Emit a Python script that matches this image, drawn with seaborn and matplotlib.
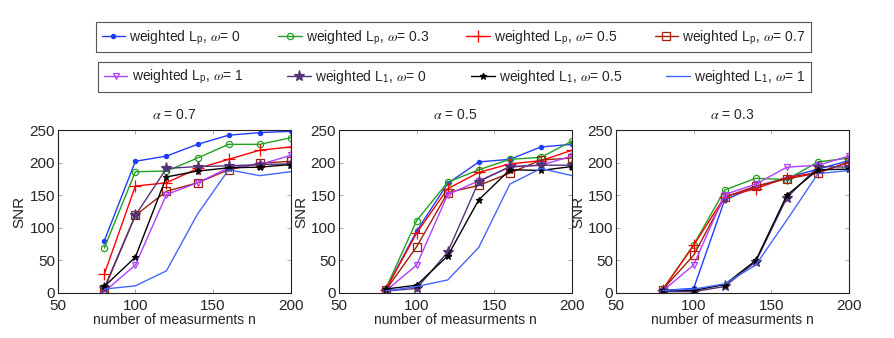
import numpy as np
import pandas as pd
import matplotlib
matplotlib.use('Agg')
import matplotlib.pyplot as plt
import seaborn as sns

# nombre de mesures
n = [80, 100, 120, 140, 160, 180, 200]

# alpha = 0.7
a07_lp_w0 = [80, 202, 210, 228, 242, 246, 248]
a07_lp_w03 = [69, 186, 187, 207, 228, 228, 238]
a07_lp_w05 = [29, 164, 169, 191, 205, 219, 224]
a07_lp_w07 = [6, 119, 156, 169, 189, 199, 202]
a07_lp_w1 = [2, 43, 151, 169, 192, 197, 211]
a07_l1_w0 = [8, 119, 191, 194, 195, 197, 198]
a07_l1_w05 = [10, 55, 178, 187, 192, 193, 197]
a07_l1_w1 = [6, 11, 34, 121, 189, 180, 186]

# alpha = 0.5
a05_lp_w0 = [5, 95, 168, 201, 205, 224, 228]
a05_lp_w03 = [6, 111, 170, 189, 205, 208, 233]
a05_lp_w05 = [5, 92, 160, 185, 198, 203, 219]
a05_lp_w07 = [4, 71, 154, 165, 184, 204, 207]
a05_lp_w1 = [3, 43, 151, 172, 193, 196, 210]
a05_l1_w0 = [3, 7, 63, 171, 194, 196, 196]
a05_l1_w05 = [6, 12, 57, 143, 189, 188, 194]
a05_l1_w1 = [3, 10, 20, 70, 167, 191, 180]

# alpha = 0.3
a03_lp_w0 = [4, 7, 143, 163, 177, 190, 203]
a03_lp_w03 = [5, 74, 158, 176, 174, 201, 207]
a03_lp_w05 = [5, 73, 148, 160, 177, 185, 200]
a03_lp_w07 = [5, 58, 147, 164, 175, 184, 201]
a03_lp_w1 = [3, 43, 151, 167, 193, 196, 210]
a03_l1_w0 = [2, 2, 10, 48, 146, 194, 193]
a03_l1_w05 = [4, 4, 13, 50, 150, 189, 190]
a03_l1_w1 = [4, 6, 14, 43, 112, 183, 188]

alphas = ['0.7', '0.5', '0.3']
panels = [
    [a07_lp_w0, a07_lp_w03, a07_lp_w05, a07_lp_w07, a07_lp_w1, a07_l1_w0, a07_l1_w05, a07_l1_w1],
    [a05_lp_w0, a05_lp_w03, a05_lp_w05, a05_lp_w07, a05_lp_w1, a05_l1_w0, a05_l1_w05, a05_l1_w1],
    [a03_lp_w0, a03_lp_w03, a03_lp_w05, a03_lp_w07, a03_lp_w1, a03_l1_w0, a03_l1_w05, a03_l1_w1],
]

labels = [
    r'weighted L$_\mathregular{p}$, $\omega$= 0',
    r'weighted L$_\mathregular{p}$, $\omega$= 0.3',
    r'weighted L$_\mathregular{p}$, $\omega$= 0.5',
    r'weighted L$_\mathregular{p}$, $\omega$= 0.7',
    r'weighted L$_\mathregular{p}$, $\omega$= 1',
    r'weighted L$_\mathregular{1}$, $\omega$= 0',
    r'weighted L$_\mathregular{1}$, $\omega$= 0.5',
    r'weighted L$_\mathregular{1}$, $\omega$= 1',
]

# styles des courbes (couleur, marqueur, taille, remplissage)
colors = ['#1f3cff', '#22a022', '#ff0000', '#a0200a', '#b040ff', '#553377', '#000000', '#4466ff']
styles = [
    dict(marker='.', markersize=6),
    dict(marker='o', markersize=4.5, markerfacecolor='none'),
    dict(marker='+', markersize=8),
    dict(marker='s', markersize=5.5, markerfacecolor='none'),
    dict(marker='v', markersize=5, markerfacecolor='none'),
    dict(marker='*', markersize=8),
    dict(marker='*', markersize=5),
    dict(marker=None),
]

sns.set_style('ticks')
plt.rcParams['font.family'] = ['Liberation Sans', 'DejaVu Sans']
plt.rcParams['mathtext.fontset'] = 'stix'
plt.rcParams['font.size'] = 9

fig = plt.figure(figsize=(8.94, 3.38), dpi=100)

lefts = [57.7, 339, 616]
width = 233
bottom = 293
height = 163

handles = []
for i, (alpha, series) in enumerate(zip(alphas, panels)):
    ax = fig.add_axes([lefts[i] / 894, 1 - bottom / 338, width / 894, height / 338])
    for vals, st, c, lab in zip(series, styles, colors, labels):
        df = pd.DataFrame({'n': n, 'snr': vals})
        sns.lineplot(data=df, x='n', y='snr', ax=ax, linewidth=1, label=lab, legend=False,
                     color=c, markeredgecolor=c, markeredgewidth=0.9, **st)
    ax.set_xlim(50, 200)
    ax.set_ylim(0, 250)
    ax.set_xticks([50, 100, 150, 200])
    ax.set_yticks([0, 50, 100, 150, 200, 250])
    ax.tick_params(direction='in', top=True, right=True, length=3, width=0.5,
                   color='#888888', labelsize=11, pad=2)
    ax.tick_params(axis='x', pad=4)
    for sp in ax.spines.values():
        sp.set_linewidth(0.8)
        sp.set_color('#222222')
    ax.set_title(r'$\alpha$ = ' + alpha, fontsize=10, pad=8)
    ax.set_xlabel('number of measurments n', fontsize=10, labelpad=0)
    ax.set_ylabel('SNR', fontsize=11, labelpad=2)
    if i == 0:
        handles = ax.get_lines()

leg_kw = dict(mode='expand', ncol=4, borderaxespad=0, fancybox=False, framealpha=1,
              edgecolor='#555555', handlelength=1.7, handletextpad=0.3, fontsize=10,
              borderpad=0.4)
leg1 = fig.legend(handles[:4], labels[:4], loc='lower left',
                  bbox_to_anchor=(96 / 894, 1 - 52.3 / 338, 715 / 894, 29 / 338), **leg_kw)
leg2 = fig.legend(handles[4:], labels[4:], loc='lower left',
                  bbox_to_anchor=(98.3 / 894, 1 - 92 / 338, 713 / 894, 29 / 338), **leg_kw)
for leg in (leg1, leg2):
    leg.get_frame().set_linewidth(0.8)

fig.savefig('out.png', dpi=100)
